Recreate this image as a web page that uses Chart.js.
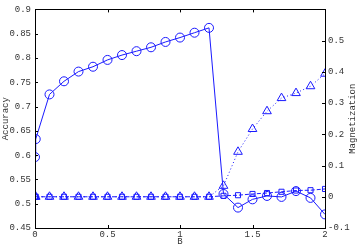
<!DOCTYPE html>
<html>
<head>
<meta charset="utf-8">
<script src="https://cdn.jsdelivr.net/npm/chart.js@4/dist/chart.umd.min.js"></script>
<style>
html,body{margin:0;padding:0;background:#fff;}
#wrap{width:358px;height:246px;position:relative;}
</style>
</head>
<body>
<div id="wrap"><canvas id="c" width="358" height="246"></canvas></div>
<script>
// ---- data ----
const B = [0, 0.005, 0.1, 0.2, 0.3, 0.4, 0.5, 0.6, 0.7, 0.8, 0.9, 1.0, 1.1, 1.2, 1.3, 1.4, 1.5, 1.6, 1.7, 1.8, 1.9, 2.0];
const accuracy = [0.596, 0.633, 0.725, 0.752, 0.772, 0.782, 0.796, 0.806, 0.814, 0.822, 0.833, 0.842, 0.852, 0.862, 0.520, 0.492, 0.509, 0.516, 0.514, 0.526, 0.512, 0.478];
const magTriangle = [0, 0, 0, 0, 0, 0, 0, 0, 0, 0, 0, 0, 0, 0, 0.035, 0.144, 0.217, 0.274, 0.316, 0.332, 0.354, 0.394];
const magSquare = [0, 0, 0, 0, 0, 0, 0, 0, 0, 0, 0, 0, 0, 0, 0.003, 0.005, 0.009, 0.012, 0.016, 0.020, 0.021, 0.025];
const xTicks = [0, 0.5, 1, 1.5, 2];
const yLeftTicks = [0.45, 0.5, 0.55, 0.6, 0.65, 0.7, 0.75, 0.8, 0.85, 0.9];
const yRightTicks = [-0.1, 0, 0.1, 0.2, 0.3, 0.4, 0.5, 0.6];
const yRightHidden = [0.6];
const xLabel = 'B';
const yLeftLabel = 'Accuracy';
const yRightLabel = 'Magnetization';

const BLUE = '#1a1aff';
const FONT = "'Liberation Mono', 'DejaVu Sans Mono', monospace";
const TXT = '#333';

function pts(ys){ return B.map((b,i)=>({x:b, y:ys[i]})); }
function fmt(v){ return String(Number(v.toFixed(3))); }

const frame = {
  id: 'frame',
  afterDraw(chart){
    const ctx = chart.ctx, a = chart.chartArea;
    ctx.save();
    ctx.strokeStyle = '#000';
    ctx.lineWidth = 1;
    ctx.strokeRect(Math.round(a.left)+0.5, Math.round(a.top)+0.5, Math.round(a.right-a.left), Math.round(a.bottom-a.top));
    const L = 3;
    ctx.beginPath();
    const sx = chart.scales.x;
    xTicks.forEach(v=>{
      const px = Math.round(sx.getPixelForValue(v))+0.5;
      ctx.moveTo(px, a.bottom); ctx.lineTo(px, a.bottom-L);
      ctx.moveTo(px, a.top); ctx.lineTo(px, a.top+L);
    });
    const sy = chart.scales.y;
    yLeftTicks.forEach(v=>{
      const py = Math.round(sy.getPixelForValue(v))+0.5;
      ctx.moveTo(a.left, py); ctx.lineTo(a.left+L, py);
    });
    const sy1 = chart.scales.y1;
    yRightTicks.forEach(v=>{
      const py = Math.round(sy1.getPixelForValue(v))+0.5;
      ctx.moveTo(a.right, py); ctx.lineTo(a.right-L, py);
    });
    ctx.stroke();
    // right axis title, reading bottom-to-top
    ctx.fillStyle = TXT;
    ctx.font = "9px " + FONT;
    ctx.textAlign = 'center';
    ctx.textBaseline = 'middle';
    ctx.translate(353, (a.top+a.bottom)/2);
    ctx.rotate(-Math.PI/2);
    ctx.fillText(yRightLabel, 0, 0);
    ctx.restore();
  }
};

new Chart(document.getElementById('c'), {
  type: 'scatter',
  data: {
    datasets: [
      {
        label: 'accuracy', data: pts(accuracy), yAxisID: 'y', showLine: true,
        borderColor: BLUE, borderWidth: 1, pointStyle: 'circle', pointRadius: 4.5,
        pointBorderColor: BLUE, pointBackgroundColor: 'rgba(0,0,0,0)', pointBorderWidth: 1
      },
      {
        label: 'magSquare', data: pts(magSquare), yAxisID: 'y1', showLine: true,
        borderColor: BLUE, borderWidth: 1, borderDash: [4,2], pointStyle: 'rect', pointRadius: 3.6,
        pointBorderColor: BLUE, pointBackgroundColor: 'rgba(0,0,0,0)', pointBorderWidth: 1
      },
      {
        label: 'magTriangle', data: pts(magTriangle), yAxisID: 'y1', showLine: true,
        borderColor: BLUE, borderWidth: 1, borderDash: [1,2.5], pointStyle: 'triangle', pointRadius: 5,
        pointBorderColor: BLUE, pointBackgroundColor: 'rgba(0,0,0,0)', pointBorderWidth: 1
      }
    ]
  },
  options: {
    responsive: false,
    animation: false,
    events: [],
    layout: { padding: { top: 7, left: 0, right: 0, bottom: 0 } },
    plugins: { legend: { display: false }, tooltip: { enabled: false } },
    scales: {
      x: {
        type: 'linear', position: 'bottom', min: 0, max: 2,
        grid: { display: false, drawTicks: false }, border: { display: false },
        afterBuildTicks: s => { s.ticks = xTicks.map(v=>({value:v})); },
        afterFit: s => { s.height = 18; },
        ticks: { padding: 1, color: TXT, font: { family: FONT, size: 9 }, callback: v => fmt(v), maxRotation: 0, autoSkip: false },
        title: { display: true, text: xLabel, color: TXT, font: { family: FONT, size: 9, lineHeight: 1 }, padding: { top: 0, bottom: 0 } }
      },
      y: {
        type: 'linear', position: 'left', min: 0.45, max: 0.9,
        grid: { display: false, drawTicks: false }, border: { display: false },
        afterBuildTicks: s => { s.ticks = yLeftTicks.map(v=>({value:v})); },
        afterFit: s => { s.width = 35; },
        ticks: { padding: 4, color: TXT, font: { family: FONT, size: 9 }, callback: v => fmt(v), autoSkip: false },
        title: { display: true, text: yLeftLabel, color: TXT, font: { family: FONT, size: 9 }, padding: { top: 0, bottom: 0 } }
      },
      y1: {
        type: 'linear', position: 'right', min: -0.1, max: 0.6,
        grid: { display: false, drawTicks: false }, border: { display: false },
        afterBuildTicks: s => { s.ticks = yRightTicks.map(v=>({value:v})); },
        afterFit: s => { s.width = 33; },
        ticks: { padding: 3, color: TXT, font: { family: FONT, size: 9 }, autoSkip: false,
          callback: v => yRightHidden.some(h => Math.abs(h-v) < 1e-9) ? '' : fmt(v) },
        title: { display: false }
      }
    }
  },
  plugins: [frame]
});
</script>
</body>
</html>
